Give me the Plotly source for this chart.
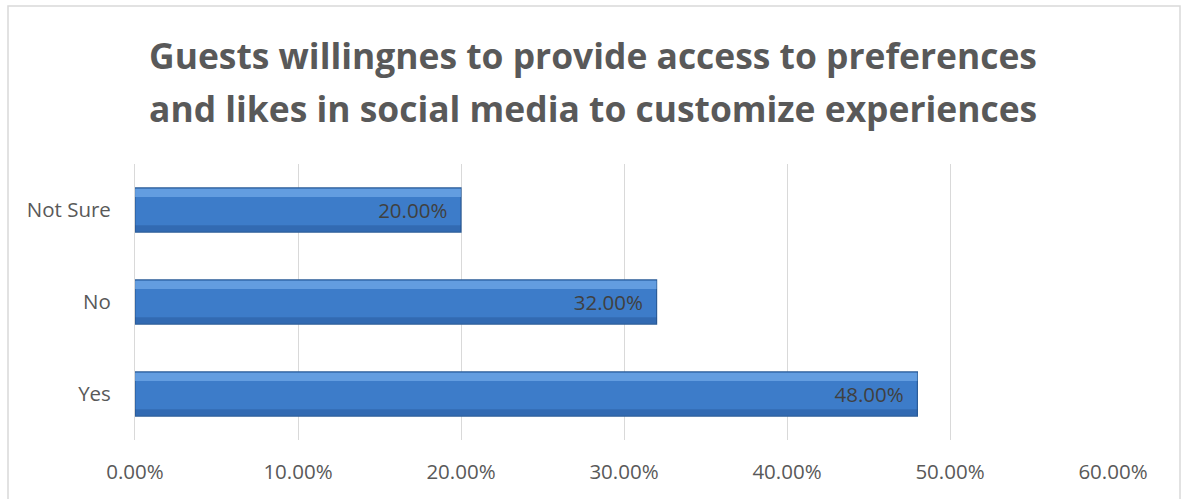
import plotly.graph_objects as go

# Survey responses
categories = ["Yes", "No", "Not Sure"]
shares = [0.48, 0.32, 0.20]
title_lines = [
    "Guests willingnes to provide access to preferences",
    "and likes in social media to customize experiences",
]

FONT = "'Open Sans', Lato, sans-serif"
W, H = 1186, 499
L, R, T, B = 135, 73, 164, 59
pw, ph = W - L - R, H - T - B


def px_x(x):
    return (x - L) / pw


def px_y(y):
    return (H - B - y) / ph


fig = go.Figure()

fig.add_trace(go.Bar(
    y=categories,
    x=shares,
    orientation="h",
    width=0.48,
    marker=dict(color="#3D7CC9", line=dict(color="#2B5C98", width=1.2)),
    text=[f"{v:.2%}\u00a0\u00a0" for v in shares],
    textposition="inside",
    insidetextanchor="end",
    textfont=dict(family=FONT, size=20.5, color="#404040"),
    cliponaxis=False,
    hoverinfo="skip",
))

# bevel shading: light band along the top edge, darker band along the bottom
fig.add_trace(go.Bar(
    y=categories,
    x=shares,
    orientation="h",
    width=0.09,
    offset=0.14,
    marker=dict(color="rgba(125,180,240,0.6)", line=dict(width=0)),
    hoverinfo="skip",
))
fig.add_trace(go.Bar(
    y=categories,
    x=shares,
    orientation="h",
    width=0.07,
    offset=-0.235,
    marker=dict(color="rgba(25,65,125,0.3)", line=dict(width=0)),
    hoverinfo="skip",
))

fig.update_layout(
    width=W,
    height=H,
    margin=dict(l=L, r=R, t=T, b=B),
    paper_bgcolor="white",
    plot_bgcolor="white",
    showlegend=False,
    barmode="overlay",
    xaxis=dict(
        range=[0, 0.6],
        dtick=0.1,
        tickformat=".2%",
        showgrid=True,
        gridcolor="#D9D9D9",
        gridwidth=1,
        zeroline=False,
        showline=False,
        ticks="",
        ticklabelstandoff=17,
        tickfont=dict(family=FONT, size=20.5, color="#595959"),
        fixedrange=True,
    ),
    yaxis=dict(
        showgrid=False,
        zeroline=False,
        showline=True,
        linecolor="#D9D9D9",
        ticks="",
        ticklabelstandoff=19,
        tickfont=dict(family=FONT, size=20.5, color="#595959"),
        fixedrange=True,
    ),
)

for line, ypix in zip(title_lines, [55, 108]):
    fig.add_annotation(
        text=f"<b>{line}</b>",
        x=px_x(593), y=px_y(ypix),
        xref="paper", yref="paper",
        xanchor="center", yanchor="middle",
        showarrow=False,
        font=dict(family=FONT, size=35.4, color="#595959"),
    )

# chart frame
fig.add_shape(
    type="rect", xref="paper", yref="paper",
    x0=px_x(8), x1=px_x(1180), y0=px_y(520), y1=px_y(6),
    line=dict(color="#D9D9D9", width=1.5), fillcolor="rgba(0,0,0,0)",
    layer="below",
)

fig.write_html("out.html")
